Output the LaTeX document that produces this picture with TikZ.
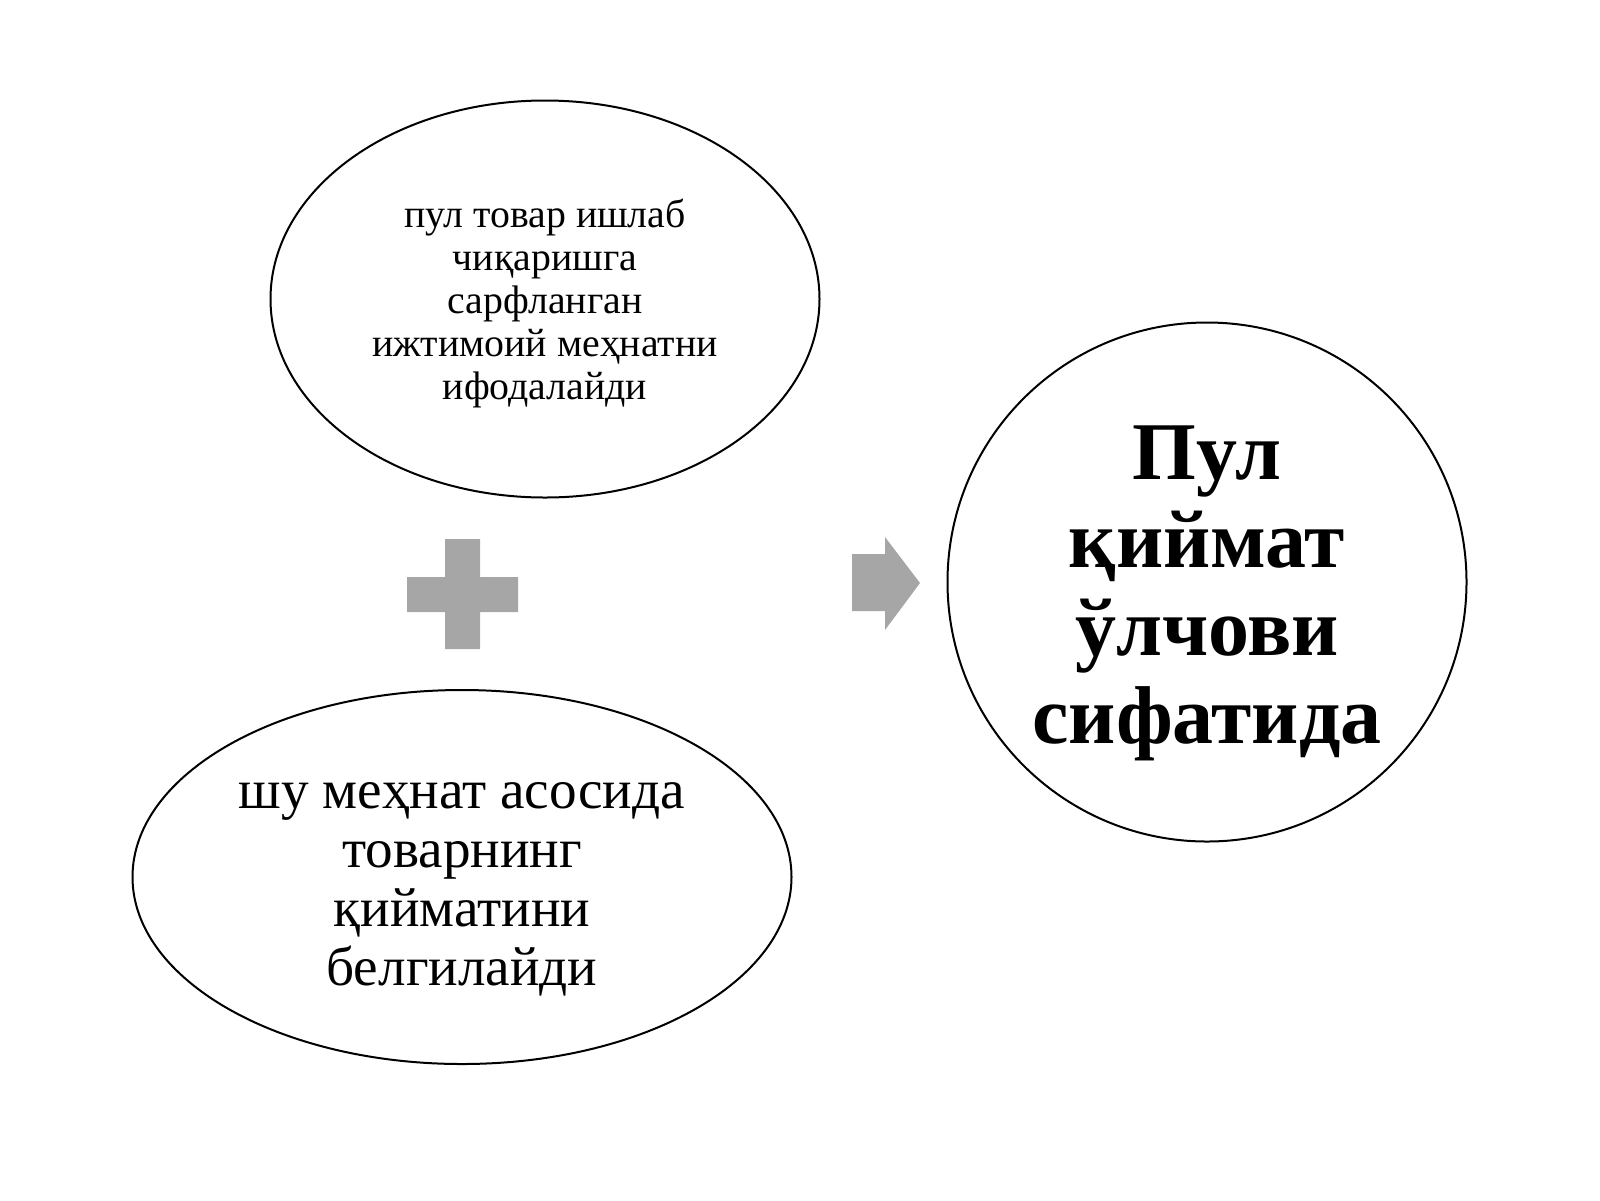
\documentclass[tikz,border=0pt]{standalone}
\usepackage{fontspec}
\setmainfont{Liberation Serif}
\usetikzlibrary{shapes.geometric}
\definecolor{signgray}{HTML}{A6A6A6}

\begin{document}
\begin{tikzpicture}[x=0.5pt, y=-0.5pt, every node/.style={inner sep=0pt, align=center}, bubble/.style={draw=black, line width=1pt}]
			\useasboundingbox (0,0) rectangle (1600,1200);
			\node[bubble, ellipse, minimum width=274.5pt, minimum height=198.5pt] (a) at (545,299){};
			\node[bubble, ellipse, minimum width=329.5pt, minimum height=187pt] (b) at (462,877){};
			\node[bubble, circle, minimum size=259.5pt] (c) at (1207,582){};
			\node[font=\fontsize{19.9}{21.5}\selectfont] (atext) at (545,303){пул товар ишлаб\\чиқаришга\\сарфланган\\ижтимоий меҳнатни\\ифодалайди};
			\node[font=\fontsize{27.6}{29.5}\selectfont] (btext) at (462,889){шу меҳнат асосида\\товарнинг\\қийматини\\белгилайди};
			\node[font=\fontsize{41}{44}\selectfont\bfseries] (ctext) at (1207,593){Пул\\қиймат\\ўлчови\\сифатида};
			
			\fill[signgray] (445,539) -- (480,539) -- (480,577) -- (518,577) -- (518,612) -- (480,612) -- (480,649) -- (445,649) -- (445,612) -- (407,612) -- (407,577) -- (445,577) -- cycle;
			\fill[signgray] (852,554) -- (885,554) -- (885,537) -- (920,583) -- (885,630) -- (885,611) -- (852,611) -- cycle;
			\end{tikzpicture}
\end{document}
